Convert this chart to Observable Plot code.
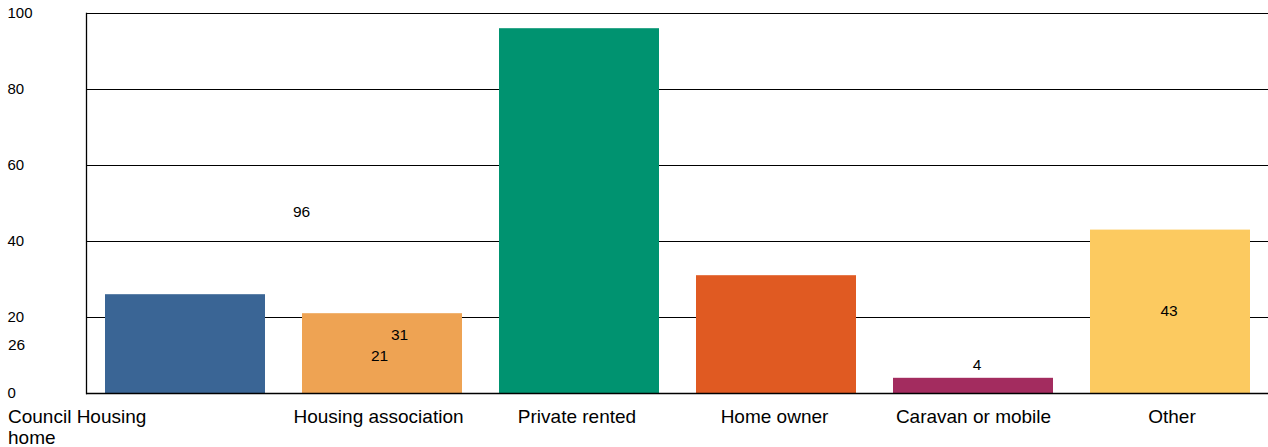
<!DOCTYPE html>
<html><head><meta charset="utf-8">
<script src="https://cdn.jsdelivr.net/npm/d3@7"></script>
<script src="https://cdn.jsdelivr.net/npm/@observablehq/plot@0.6"></script>
<style>
body{margin:0;background:#fff;}
#chart svg{font-family:"Liberation Sans",Arial,sans-serif;}
</style>
</head><body><div id="chart"></div>
<script>
const categories = ["Council Housing home","Housing association","Private rented","Home owner","Caravan or mobile","Other"];
const categoryLabels = ["Council Housing\nhome","Housing association","Private rented","Home owner","Caravan or mobile","Other"];
const values = [26,21,96,31,4,43];
const yTicks = [0,20,40,60,80,100];
const colors = ["#3a6595","#eea353","#009370","#e05a22","#a32c5f","#fcca60"];

const data = categories.map((c,i)=>({category:c, label:categoryLabels[i], value:values[i]}));

// label placement offsets (style, not data)
const labelDx = [-169, -3, -278, -377, 3.5, -1.5];
const labelDy = [1, 2, 0.5, 0, -21, -1];
const catDx = [-177.5, -4, -2.5, -2, 0, 1.5];

const W = 1268, H = 447;
const marks = [
  Plot.ruleY(yTicks.filter(t=>t>0), {stroke:"#000", strokeWidth:1}),
  Plot.barY(data, {x:"category", y:"value", fill:"category"}),
  Plot.ruleY([0], {stroke:"#000", strokeWidth:1.3}),
  Plot.frame({anchor:"left", stroke:"#000", strokeWidth:1.3}),
  Plot.text(yTicks, {y:d=>d, text:d=>String(d), frameAnchor:"left", textAnchor:"start", dx:-79, fontSize:15, fill:"#000"})
];
data.forEach((d,i)=>{
  marks.push(Plot.text([d], {x:"category", y:e=>e.value/2, text:e=>String(e.value), dx:labelDx[i], dy:labelDy[i], fontSize:15.5, fill:"#000"}));
  marks.push(Plot.text([d], {x:"category", text:"label", frameAnchor:"bottom", lineAnchor:"top", dy:15, dx:catDx[i], textAnchor: i===0 ? "start" : "middle", fontSize:19, lineHeight:1.1, fill:"#000"}));
});

const chart = Plot.plot({
  width: W, height: H,
  marginLeft: 86, marginRight: 0, marginTop: 13, marginBottom: 54,
  x: {axis:null, domain:categories, paddingInner:0.19, paddingOuter:0.095},
  y: {axis:null, domain:[0,100]},
  color: {domain:categories, range:colors},
  style: {fontFamily:"Liberation Sans, Arial, sans-serif", background:"#fff", overflow:"visible"},
  marks
});
document.getElementById("chart").appendChild(chart);
</script>
</body></html>
